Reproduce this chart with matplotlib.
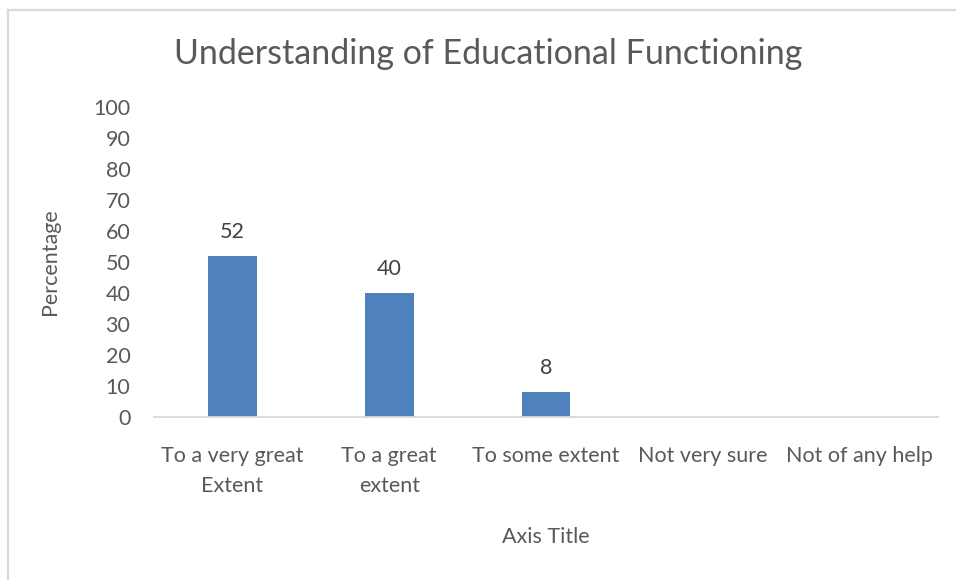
import matplotlib
matplotlib.use("Agg")
import matplotlib.pyplot as plt
from matplotlib.lines import Line2D

categories = ["To a very great\nExtent", "To a great\nextent", "To some extent",
              "Not very sure", "Not of any help"]
values = [52, 40, 8, 0, 0]
shown_labels = [True, True, True, False, False]
y_ticks = [0, 10, 20, 30, 40, 50, 60, 70, 80, 90, 100]

BAR_COLOR = "#4f81bd"
TEXT_COLOR = "#595959"
LABEL_COLOR = "#404040"
BORDER_COLOR = "#d9d9d9"
FS = 15.5

plt.rcParams["font.family"] = ["Lato", "DejaVu Sans"]

W, H = 956, 580
fig = plt.figure(figsize=(W / 100, H / 100), dpi=100)
ax = fig.add_axes([154 / W, 1 - 417 / H, (938 - 154) / W, (417 - 107) / H])

x = list(range(len(categories)))
ax.bar(x, values, width=0.31, color=BAR_COLOR, zorder=2)
for xi, v, show in zip(x, values, shown_labels):
    if show:
        ax.annotate(str(v), (xi, v), xytext=(0, 10), textcoords="offset points",
                    ha="center", va="bottom", fontsize=FS, color=LABEL_COLOR)

ax.set_xlim(-0.5, len(categories) - 0.5)
ax.set_ylim(0, 100)
ax.set_yticks(y_ticks)
ax.set_xticks(x)
ax.set_xticklabels(categories, linespacing=1.6)
ax.tick_params(axis="both", length=0, labelsize=FS, labelcolor=TEXT_COLOR)
ax.tick_params(axis="y", pad=17)
ax.tick_params(axis="x", pad=21)

for side in ["top", "right", "left"]:
    ax.spines[side].set_visible(False)
ax.spines["bottom"].set_color(BORDER_COLOR)
ax.spines["bottom"].set_linewidth(1.3)

ax.set_ylabel("Percentage", fontsize=FS, color=TEXT_COLOR)
ax.yaxis.set_label_coords((60 - 154) / (938 - 154), 0.5)
fig.text(546 / W, 1 - 537 / H, "Axis Title", ha="center", va="center",
         fontsize=FS, color=TEXT_COLOR)
fig.text(488 / W, 1 - 54 / H, "Understanding of Educational Functioning",
         ha="center", va="center", fontsize=24.5, color=TEXT_COLOR)

# chart frame, running off the right and bottom edges
fig.add_artist(Line2D([8 / W, 1], [1 - 10 / H, 1 - 10 / H], color=BORDER_COLOR,
                      linewidth=1.6, transform=fig.transFigure))
fig.add_artist(Line2D([8 / W, 8 / W], [1 - 10 / H, 0], color=BORDER_COLOR,
                      linewidth=1.6, transform=fig.transFigure))

fig.savefig("out.png", dpi=100)
